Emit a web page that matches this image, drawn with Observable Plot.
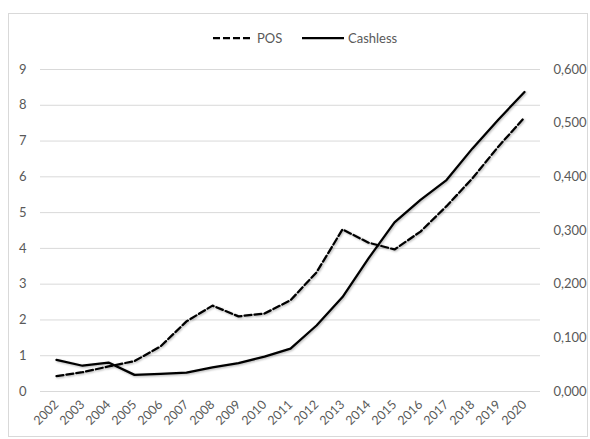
<!DOCTYPE html>
<html><head><meta charset="utf-8">
<script src="https://cdn.jsdelivr.net/npm/d3@7"></script>
<script src="https://cdn.jsdelivr.net/npm/@observablehq/plot@0.6"></script>
<style>
body{margin:0;background:#fff;font-family:Lato,"Open Sans",sans-serif;}
#wrap{position:relative;width:590px;height:439px;overflow:hidden;}
#border{position:absolute;left:8px;top:13px;width:580px;height:424px;border:1px solid #d9d9d9;box-sizing:border-box;}
.lg{position:absolute;top:29px;height:18px;font-size:13px;color:#595959;line-height:18px;white-space:nowrap;}
.sw{position:absolute;top:36px;}
#chart{position:absolute;left:0;top:50px;}
#chart g[aria-label="line"] path{filter:drop-shadow(1px 1.5px 1.2px rgba(0,0,0,0.3));}
</style></head>
<body>
<div id="wrap">
<div id="border"></div>
<svg class="sw" style="left:213px" width="38" height="4"><line x1="0" y1="2" x2="38" y2="2" stroke="#000" stroke-width="2.25" stroke-dasharray="7,3"/></svg>
<div class="lg" style="left:257px">POS</div>
<svg class="sw" style="left:302px" width="42" height="4"><line x1="0" y1="2" x2="42" y2="2" stroke="#000" stroke-width="2.25"/></svg>
<div class="lg" style="left:348px">Cashless</div>
<div id="chart"></div>
</div>
<script>
const years = [2002,2003,2004,2005,2006,2007,2008,2009,2010,2011,2012,2013,2014,2015,2016,2017,2018,2019,2020];
const pos = [0.43,0.54,0.70,0.85,1.26,1.96,2.40,2.10,2.18,2.55,3.33,4.53,4.16,3.97,4.47,5.18,5.96,6.85,7.66];
const cashless = [0.059,0.048,0.054,0.031,0.033,0.035,0.045,0.053,0.065,0.080,0.123,0.176,0.248,0.315,0.357,0.394,0.453,0.507,0.558];
const leftTicks = [0,1,2,3,4,5,6,7,8,9];
const rightTicks = [0,0.1,0.2,0.3,0.4,0.5,0.6];
const ratio = 9 / 0.6;

const posData = years.map((y, i) => ({year: y, v: pos[i]}));
const cashData = years.map((y, i) => ({year: y, v: cashless[i]}));
const fmtR = d => d3.format(".3f")(d / ratio).replace(".", ",");

const chart = Plot.plot({
  width: 590, height: 389,
  marginLeft: 40, marginRight: 50, marginTop: 19, marginBottom: 48,
  style: {fontFamily: "Lato, 'Open Sans', sans-serif", fontSize: "13px", color: "#595959", background: "transparent"},
  x: {type: "point", domain: years, padding: 0.5},
  y: {domain: [0, 9]},
  marks: [
    Plot.ruleY(leftTicks, {stroke: "#d9d9d9", strokeWidth: 1}),
    Plot.axisY({ticks: leftTicks, tickSize: 0, tickPadding: 14, label: null}),
    Plot.axisY({ticks: rightTicks.map(d => d * ratio), tickFormat: fmtR, anchor: "right", tickSize: 0, tickPadding: 13, label: null}),
    Plot.axisX({tickRotate: -45, tickSize: 0, tickPadding: 11, fontSize: 12.5, tickFormat: d => String(d), label: null}),
    Plot.line(posData, {x: "year", y: "v", stroke: "#000", strokeWidth: 2.25, strokeDasharray: "7,3"}),
    Plot.line(cashData, {x: "year", y: d => d.v * ratio, stroke: "#000", strokeWidth: 2.25})
  ]
});
document.getElementById("chart").appendChild(chart);
</script>
</body></html>
